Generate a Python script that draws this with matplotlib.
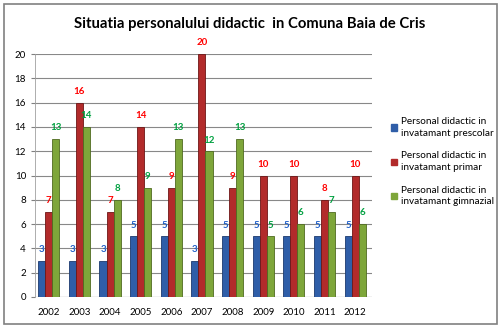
import matplotlib.pyplot as plt
import numpy as np
from matplotlib.patches import Rectangle

years = ['2002', '2003', '2004', '2005', '2006', '2007', '2008', '2009', '2010', '2011', '2012']
prescolar = [3, 3, 3, 5, 5, 3, 5, 5, 5, 5, 5]
primar = [7, 16, 7, 14, 9, 20, 9, 10, 10, 8, 10]
gimnazial = [13, 14, 8, 9, 13, 12, 13, 5, 6, 7, 6]
labels = ['Personal didactic in\ninvatamant prescolar',
          'Personal didactic in\ninvatamant primar',
          'Personal didactic in\ninvatamant gimnazial']

bar_colors = ['#2f5ea8', '#b22b2b', '#7ea63a']
edge_colors = ['#1c3a6e', '#6e1616', '#4f6b20']
text_colors = ['#1f5fc8', '#ff0000', '#00a040']

plt.rcParams['font.family'] = ['Lato', 'DejaVu Sans']

fig = plt.figure(figsize=(5.02, 3.28), dpi=100)
fig.patches.append(Rectangle((4/502, 4/328), 493/502, 320/328, transform=fig.transFigure,
                             fill=False, edgecolor='#808080', linewidth=1.2))

ax = fig.add_axes([35/502, 31/328, 337/502, 243/328])
x = np.arange(len(years))
w = 0.23
for i, vals in enumerate([prescolar, primar, gimnazial]):
    pos = x + (i - 1) * w
    ax.bar(pos, vals, width=w, color=bar_colors[i], edgecolor=edge_colors[i], linewidth=0.6, zorder=3)
    for p, v in zip(pos, vals):
        ax.text(p, v + 0.55, str(v), ha='center', va='bottom', fontsize=7, fontweight='bold',
                color=text_colors[i], zorder=4)

ax.set_ylim(0, 20)
ax.set_xlim(-0.45, 10.55)
ax.set_yticks(range(0, 21, 2))
ax.set_xticks(x)
ax.set_xticklabels(years)
ax.tick_params(axis='y', labelsize=7, length=3, color='#808080')
ax.tick_params(axis='x', labelsize=7, length=0, pad=8)
ax.yaxis.grid(True, color='#888888', linewidth=0.8, zorder=0)
for s in ['top', 'right', 'bottom']:
    ax.spines[s].set_visible(False)
ax.spines['left'].set_color('#a0a0a0')
ax.spines['left'].set_linewidth(0.6)
ax.axhline(0, color='#888888', linewidth=0.8, zorder=2)

fig.text(250/502, 1 - 24/328, 'Situatia personalului didactic  in Comuna Baia de Cris',
         ha='center', va='center', fontsize=10.7, fontweight='bold')

handles = [Rectangle((0, 0), 1, 1, color=c) for c in bar_colors]
leg = fig.legend(handles, labels, loc='upper left', bbox_to_anchor=(386/502, 1 - 112/328),
                 frameon=False, fontsize=7.2, handlelength=0.6, handleheight=0.6,
                 handletextpad=0.4, labelspacing=1.35, borderpad=0)
for t in leg.get_texts():
    t.set_linespacing(1.4)

plt.savefig('out.png', dpi=100)
